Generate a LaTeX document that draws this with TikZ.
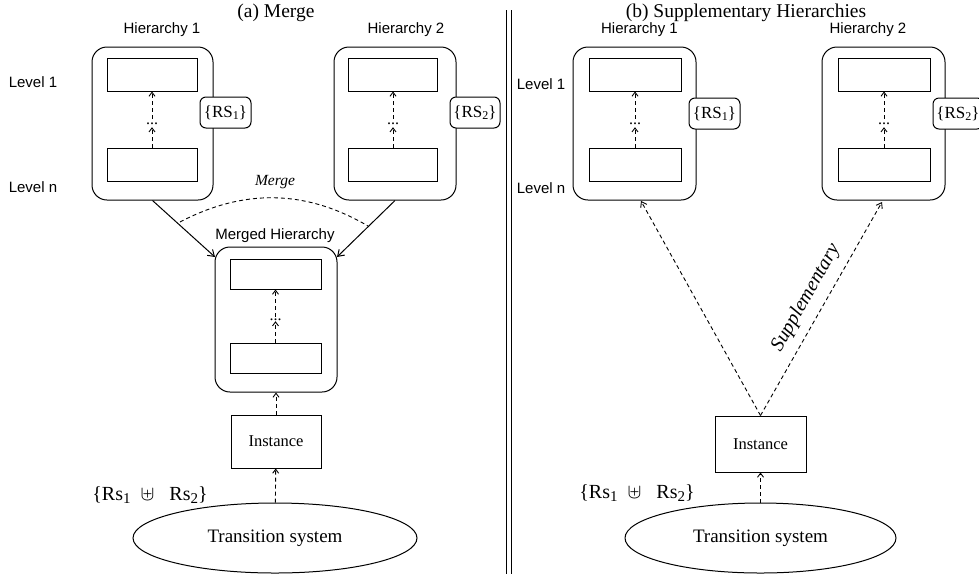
\documentclass[tikz,border=0pt]{standalone}
\usepackage{fontspec}
\setmainfont{Liberation Serif}
\newfontfamily\hvfont{Liberation Sans}
\usetikzlibrary{arrows.meta,shapes.geometric}
\newcommand\lowsub[1]{\raisebox{-0.4ex}{\fontsize{15}{15}\selectfont #1}}
\newcommand\rssub[1]{\raisebox{-0.35ex}{\fontsize{12}{12}\selectfont #1}}
\begin{document}
\begin{tikzpicture}[x=1pt,y=-1pt,
  outerbox/.style={draw, line width=1pt, rounded corners=15pt, inner sep=0},
  innerbox/.style={draw, line width=1pt, minimum width=90pt, minimum height=33pt, inner sep=0},
  rsbox/.style={draw, fill=white, line width=1pt, rounded corners=6pt, minimum width=51pt, minimum height=31pt, inner sep=0, font=\fontsize{17}{17}\selectfont},
  sanslbl/.style={font=\hvfont\fontsize{15}{18}\selectfont, inner sep=0},
  titlelbl/.style={font=\fontsize{19.5}{22}\selectfont, inner sep=0},
  dotsn/.style={inner sep=0, text height=2pt, text depth=0pt, font=\fontsize{16}{16}\selectfont},
  darr/.style={line width=0.9pt, dash pattern=on 4pt off 3pt, -{Straight Barb[length=4pt,width=6pt]}},
  ldarr/.style={line width=0.9pt, dash pattern=on 4pt off 3pt, -{Straight Barb[length=5pt,width=7pt]}},
  sarr/.style={line width=1pt, -{Straight Barb[length=6pt,width=8pt]}},
  instbox/.style={draw, line width=1pt, minimum width=90pt, inner sep=0, font=\fontsize{16.5}{18}\selectfont},
  tsell/.style={draw, ellipse, line width=1pt, inner sep=0, minimum height=70pt, font=\fontsize{19}{22}\selectfont},
  rslbl/.style={inner sep=0, font=\fontsize{20}{22}\selectfont}
]
\useasboundingbox (0,0) rectangle (979,574);

% ---------- divider ----------
\coordinate (dva) at (506,10);
\coordinate (dvb) at (506,574);
\coordinate (dvc) at (511,10);
\coordinate (dvd) at (511,574);
\draw[line width=1pt] (dva) -- (dvb);
\draw[line width=1pt] (dvc) -- (dvd);

% ================= (a) Merge =================
\node[titlelbl] (ta) at (276,13) {(a) Merge};
\node[sanslbl] (lv1a) at (33,82) {Level 1};
\node[sanslbl] (lvna) at (33,187) {Level n};

% Hierarchy 1
\node[sanslbl] (h1l) at (162,30) {Hierarchy 1};
\node[outerbox, minimum width=121pt, minimum height=153pt] (h1) at (152.5,123.5) {};
\node[innerbox] (h1t) at (152,74.5) {};
\node[innerbox] (h1b) at (152,165) {};
\node[dotsn] (h1d) at (152,123) {...};
\draw[darr, shorten >=3pt] (h1b) -- (h1d);
\draw[darr, shorten <=3pt] (h1d) -- (h1t);
\node[rsbox] (rs1) at (225.5,112.5) {\{RS\rssub{1}\}};

% Hierarchy 2
\node[sanslbl] (h2l) at (406,30) {Hierarchy 2};
\node[outerbox, minimum width=122pt, minimum height=153pt] (h2) at (395,123.5) {};
\node[innerbox, minimum width=89pt] (h2t) at (393,74.5) {};
\node[innerbox, minimum width=89pt] (h2b) at (393,165) {};
\node[dotsn] (h2d) at (393,123) {...};
\draw[darr, shorten >=3pt] (h2b) -- (h2d);
\draw[darr, shorten <=3pt] (h2d) -- (h2t);
\node[rsbox, minimum width=50pt] (rs2) at (475,112.5) {\{RS\rssub{2}\}};

% Merged hierarchy
\node[sanslbl] (mhl) at (275,236) {Merged Hierarchy};
\node[outerbox, minimum width=122pt, minimum height=145pt] (mh) at (276,319.5) {};
\node[innerbox, minimum width=91pt, minimum height=30pt] (mht) at (275.5,274) {};
\node[innerbox, minimum width=91pt, minimum height=30pt] (mhb) at (275.5,358) {};
\node[dotsn] (mhd) at (275.5,319) {...};
\draw[darr, shorten >=1pt] (mhb) -- (mhd);
\draw[darr, shorten <=1pt] (mhd) -- (mht);

% merge arrows
\coordinate (m1) at (215,257);
\coordinate (m2) at (337,257);
\draw[sarr] (h1.south) -- (m1);
\draw[sarr] (h2.south) -- (m2);
\coordinate (ma) at (180,222);
\coordinate (mb) at (368,226);
\draw[line width=0.9pt, dash pattern=on 4pt off 3pt] (ma) .. controls (243,189) and (305,189) .. (mb);
\node[inner sep=0, font=\itshape\fontsize{15.5}{17}\selectfont] (mlbl) at (275,182) {Merge};

% instance and transition system
\node[instbox, minimum height=53pt] (ia) at (276,441.5) {Instance};
\node[tsell, minimum width=284pt] (tsa) at (275,538) {Transition system};
\draw[darr] (ia) -- (mh);
\draw[darr] (tsa) -- (ia);
\node[rslbl] (rsa) at (150,495) {\{Rs\lowsub{1}\ \ $\uplus$\ \ \ Rs\lowsub{2}\}};

% ================= (b) Supplementary =================
\node[titlelbl] (tb) at (746,13) {(b) Supplementary Hierarchies};
\node[sanslbl] (lv1b) at (541,84) {Level 1};
\node[sanslbl] (lvnb) at (541,188) {Level n};

% Hierarchy 1 (right)
\node[sanslbl] (g1l) at (639.5,30) {Hierarchy 1};
\node[outerbox, minimum width=123pt, minimum height=153pt] (g1) at (634.5,123.5) {};
\node[innerbox, minimum width=92pt] (g1t) at (635,74.5) {};
\node[innerbox, minimum width=92pt] (g1b) at (635,165) {};
\node[dotsn] (g1d) at (635,123) {...};
\draw[darr, shorten >=3pt] (g1b) -- (g1d);
\draw[darr, shorten <=3pt] (g1d) -- (g1t);
\node[rsbox] (rs3) at (714.5,113.5) {\{RS\rssub{1}\}};

% Hierarchy 2 (right)
\node[sanslbl] (g2l) at (868,30) {Hierarchy 2};
\node[outerbox, minimum width=123pt, minimum height=153pt] (g2) at (883.5,123.5) {};
\node[innerbox, minimum width=92pt] (g2t) at (884,74.5) {};
\node[innerbox, minimum width=92pt] (g2b) at (884,165) {};
\node[dotsn] (g2d) at (884,123) {...};
\draw[darr, shorten >=3pt] (g2b) -- (g2d);
\draw[darr, shorten <=3pt] (g2d) -- (g2t);
\node[rsbox, minimum width=50pt] (rs4) at (958,113.5) {\{RS\rssub{2}\}};

% instance and transition system (right)
\node[instbox, minimum width=91pt, minimum height=56pt] (ib) at (760.5,444) {Instance};
\node[tsell, minimum width=271pt] (tsb) at (760.5,538) {Transition system};
\draw[darr] (tsb) -- (ib);
\node[rslbl] (rsb) at (637,493) {\{Rs\lowsub{1}\ \ $\uplus$\ \ \ Rs\lowsub{2}\}};

\coordinate (sa) at (641,201);
\coordinate (sb) at (882,202);
\draw[ldarr] (ib.north) -- (sa);
\draw[ldarr] (ib.north) -- (sb);
\node[inner sep=0, rotate=60.5, font=\itshape\fontsize{20}{22}\selectfont] (slbl) at (806,298) {Supplementary};
\end{tikzpicture}
\end{document}
